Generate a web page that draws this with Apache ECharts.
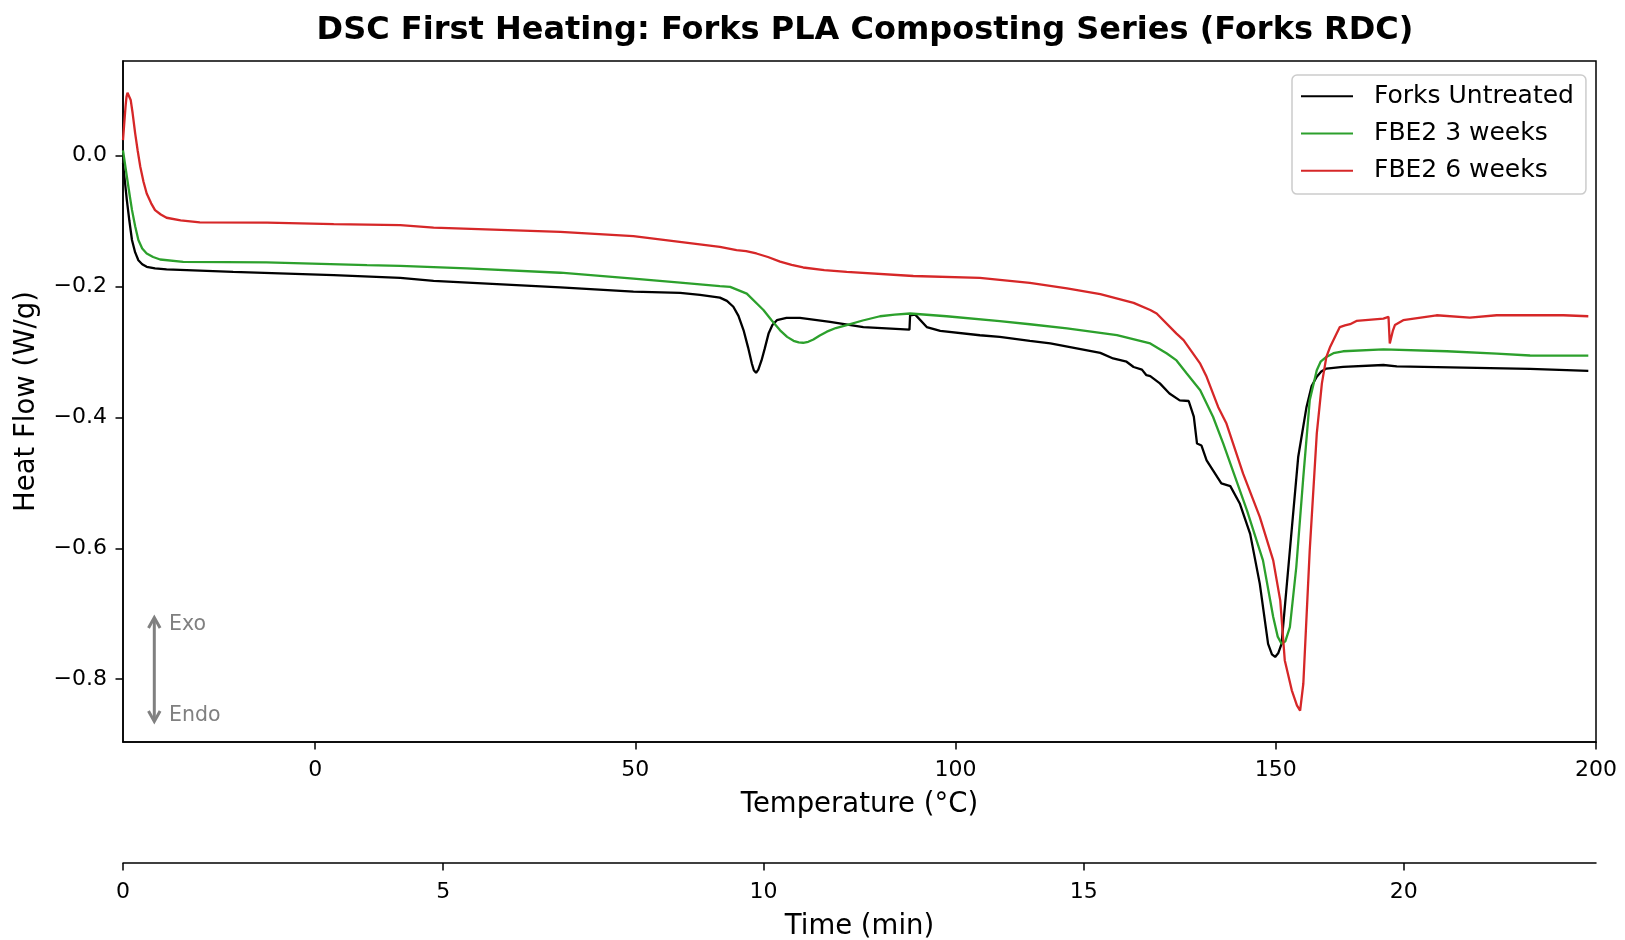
<!DOCTYPE html>
<html>
<head>
<meta charset="utf-8">
<script src="https://cdn.jsdelivr.net/npm/echarts@6/dist/echarts.min.js"></script>
<style>
html,body{margin:0;padding:0;background:#fff;}
#chart{width:1625px;height:940px;}
</style>
</head>
<body>
<div id="chart"></div>
<script>
// ---------- DATA ----------
const seriesNames = ['Forks Untreated', 'FBE2 3 weeks', 'FBE2 6 weeks'];

const untreatedT = [-30.0,-29.7,-29.4,-29.0,-28.6,-28.1,-27.6,-27.0,-26.3,-25.0,-23.2,-12.8,2.9,13.3,18.5,38.3,49.7,57.0,60.1,63.2,64.3,65.3,66.1,66.9,67.6,68.2,68.5,68.85,69.2,69.7,70.2,70.8,71.4,72.1,73.6,75.7,80.4,85.6,92.8,92.9,93.7,95.5,97.6,103.8,106.9,111.6,114.8,122.6,124.6,126.7,127.8,129.1,129.8,130.4,131.9,133.4,135.0,136.4,137.2,137.7,138.4,139.2,140.2,141.5,142.9,144.4,146.0,147.5,148.8,149.4,149.9,150.4,150.9,152.2,153.5,154.8,155.6,156.4,157.1,157.9,160.5,166.8,168.9,179.3,189.7,198.8];
const untreatedV = [-0.012,-0.040,-0.068,-0.100,-0.129,-0.148,-0.160,-0.166,-0.170,-0.1725,-0.174,-0.1776,-0.1827,-0.187,-0.1914,-0.2015,-0.208,-0.2098,-0.213,-0.217,-0.222,-0.231,-0.245,-0.267,-0.293,-0.318,-0.328,-0.332,-0.327,-0.313,-0.295,-0.272,-0.259,-0.2515,-0.248,-0.248,-0.254,-0.262,-0.266,-0.244,-0.243,-0.262,-0.268,-0.2745,-0.277,-0.283,-0.287,-0.3015,-0.310,-0.315,-0.323,-0.327,-0.3356,-0.337,-0.348,-0.3636,-0.374,-0.375,-0.399,-0.440,-0.443,-0.4656,-0.481,-0.501,-0.505,-0.532,-0.578,-0.654,-0.746,-0.762,-0.766,-0.760,-0.746,-0.603,-0.4606,-0.384,-0.352,-0.338,-0.330,-0.3254,-0.323,-0.320,-0.322,-0.324,-0.326,-0.329];

const week3T = [-30.0,-29.7,-29.4,-29.0,-28.6,-28.1,-27.6,-27.0,-26.3,-25.3,-24.2,-20.6,-7.6,8.1,13.3,23.7,38.3,49.7,57.0,63.2,64.8,67.4,70.0,71.3,72.6,73.7,74.7,75.5,76.2,77.0,77.8,78.8,79.9,81.3,83.0,85.5,88.2,90.5,92.9,98.6,106.9,111.6,117.4,125.2,130.4,133.0,134.5,136.1,138.2,140.2,141.8,145.5,148.0,149.6,150.3,150.9,151.5,152.2,153.2,154.3,155.3,156.4,157.0,157.9,159.0,160.5,166.8,176.7,184.5,189.7,198.8];
const week3V = [0.008,-0.012,-0.032,-0.058,-0.083,-0.108,-0.129,-0.142,-0.1496,-0.155,-0.1588,-0.1623,-0.1633,-0.1674,-0.1685,-0.1725,-0.179,-0.188,-0.194,-0.1995,-0.2006,-0.211,-0.236,-0.252,-0.267,-0.277,-0.283,-0.2855,-0.286,-0.2845,-0.281,-0.275,-0.269,-0.2635,-0.259,-0.252,-0.2455,-0.243,-0.2413,-0.2455,-0.253,-0.2577,-0.264,-0.2745,-0.287,-0.3025,-0.313,-0.333,-0.3586,-0.399,-0.440,-0.542,-0.6185,-0.705,-0.735,-0.746,-0.742,-0.7205,-0.629,-0.491,-0.374,-0.328,-0.315,-0.3076,-0.302,-0.299,-0.296,-0.299,-0.3025,-0.3055,-0.3058];

const week6T = [-30.0,-29.8,-29.6,-29.45,-29.3,-29.05,-28.8,-28.5,-28.1,-27.7,-27.3,-26.8,-26.3,-25.6,-25.0,-24.1,-23.2,-21.0,-18.0,-7.5,2.9,13.3,18.5,38.3,49.7,63.2,65.8,67.3,68.9,70.7,72.6,74.4,76.2,79.5,83.0,93.4,103.8,106.9,111.6,117.4,122.6,127.8,130.4,131.4,134.5,135.6,138.2,139.2,141.0,142.3,144.9,147.5,149.6,150.7,151.4,152.5,153.3,153.8,154.3,155.3,156.4,157.2,157.9,158.5,159.5,160.0,160.8,161.6,162.6,166.8,167.6,167.8,168.3,168.6,169.9,175.1,180.3,184.5,194.9,198.8];
const week6V = [0.0237,0.050,0.075,0.090,0.096,0.094,0.085,0.065,0.034,0.007,-0.017,-0.040,-0.058,-0.073,-0.0833,-0.090,-0.095,-0.099,-0.102,-0.1025,-0.1047,-0.1063,-0.110,-0.1165,-0.123,-0.1394,-0.1445,-0.146,-0.1496,-0.155,-0.162,-0.167,-0.171,-0.175,-0.1776,-0.184,-0.187,-0.190,-0.1945,-0.203,-0.2118,-0.225,-0.236,-0.2413,-0.272,-0.282,-0.318,-0.338,-0.384,-0.4095,-0.486,-0.552,-0.6185,-0.680,-0.771,-0.817,-0.840,-0.848,-0.807,-0.603,-0.425,-0.348,-0.3076,-0.292,-0.272,-0.262,-0.2595,-0.2577,-0.2526,-0.249,-0.2465,-0.287,-0.267,-0.259,-0.2515,-0.244,-0.2475,-0.244,-0.244,-0.2455];

const tempTicks = [0, 50, 100, 150, 200];
const heatTicks = [-0.8, -0.6, -0.4, -0.2, 0.0];
const timeTicks = [0, 5, 10, 15, 20];
const tempRange = [-30, 200];
const heatRange = [-0.896, 0.1445];
const timeRange = [0, 23];

// ---------- CHART ----------
const FONT = 'DejaVu Sans';
const colors = ['#000000', '#2ca02c', '#d62728'];
const zip = (xs, ys) => xs.map((x, i) => [x, ys[i]]);
const seriesData = [zip(untreatedT, untreatedV), zip(week3T, week3V), zip(week6T, week6V)];
const fmtNum = v => (v < 0 ? '\u2212' : '') + Math.abs(v).toFixed(1);

const axisLineStyle = { color: '#000', width: 1.5 };

const chart = echarts.init(document.getElementById('chart'), null, { renderer: 'canvas' });
chart.setOption({
  animation: false,
  backgroundColor: '#fff',
  title: {
    text: 'DSC First Heating: Forks PLA Composting Series (Forks RDC)',
    left: 860, top: 10, textAlign: 'center',
    textStyle: { fontFamily: FONT, fontSize: 32, fontWeight: 'bold', color: '#000' }
  },
  grid: {
    left: 123, right: 29, top: 61, bottom: 198,
    containLabel: false, outerBoundsMode: 'none',
    show: true, borderColor: '#000', borderWidth: 1.5, backgroundColor: 'transparent'
  },
  legend: {
    orient: 'vertical', left: 1292, top: 75,
    padding: [7, 12, 9, 9],
    itemWidth: 52, itemHeight: 2, itemGap: 8.5,
    icon: 'rect',
    data: seriesNames,
    textStyle: { fontFamily: FONT, fontSize: 25, color: '#000', lineHeight: 28.7, padding: [0, 0, 0, 16] },
    borderColor: '#cccccc', borderWidth: 1.5, borderRadius: 5,
    backgroundColor: 'rgba(255,255,255,0.8)'
  },
  xAxis: [
    {
      type: 'value', min: tempRange[0], max: tempRange[1], position: 'bottom',
      name: 'Temperature (\u00B0C)', nameLocation: 'middle', nameGap: 49,
      nameTextStyle: { fontFamily: FONT, fontSize: 27.5, color: '#000' },
      axisLine: { show: true, onZero: false, lineStyle: axisLineStyle },
      axisTick: { show: true, length: 7.5, lineStyle: axisLineStyle, customValues: tempTicks },
      axisLabel: { fontFamily: FONT, fontSize: 22, color: '#000', margin: 17, customValues: tempTicks, formatter: v => String(v) },
      splitLine: { show: false }
    },
    {
      type: 'value', min: timeRange[0], max: timeRange[1], position: 'bottom', offset: 121,
      name: 'Time (min)', nameLocation: 'middle', nameGap: 50,
      nameTextStyle: { fontFamily: FONT, fontSize: 27.5, color: '#000' },
      axisLine: { show: true, onZero: false, lineStyle: axisLineStyle },
      axisTick: { show: true, length: 7.5, lineStyle: axisLineStyle, customValues: timeTicks },
      axisLabel: { fontFamily: FONT, fontSize: 22, color: '#000', margin: 18, customValues: timeTicks, formatter: v => String(v) },
      splitLine: { show: false }
    }
  ],
  yAxis: {
    type: 'value', min: heatRange[0], max: heatRange[1],
    name: 'Heat Flow (W/g)', nameLocation: 'middle', nameGap: 82,
    nameTextStyle: { fontFamily: FONT, fontSize: 27.5, color: '#000' },
    axisLine: { show: true, onZero: false, lineStyle: axisLineStyle },
    axisTick: { show: true, length: 7.5, lineStyle: axisLineStyle, customValues: heatTicks },
    axisLabel: { fontFamily: FONT, fontSize: 22, color: '#000', margin: 16, customValues: heatTicks, formatter: fmtNum },
    splitLine: { show: false }
  },
  series: seriesNames.map((name, i) => ({
    name, type: 'line', xAxisIndex: 0, yAxisIndex: 0,
    data: seriesData[i], showSymbol: false, symbol: 'none',
    color: colors[i],
    lineStyle: { color: colors[i], width: 2.3 },
    emphasis: { disabled: true }
  })),
  graphic: [
    { type: 'polyline', shape: { points: [[154.3, 619], [154.3, 719]] }, style: { stroke: '#808080', lineWidth: 3, fill: null } },
    { type: 'polyline', shape: { points: [[148.5, 628], [154.3, 617.5], [160.1, 628]] }, style: { stroke: '#808080', lineWidth: 3, fill: null } },
    { type: 'polyline', shape: { points: [[148.5, 711], [154.3, 721.5], [160.1, 711]] }, style: { stroke: '#808080', lineWidth: 3, fill: null } },
    { type: 'text', left: 169, top: 614, style: { text: 'Exo', fontFamily: FONT, fontSize: 20.5, fill: '#808080' } },
    { type: 'text', left: 169, top: 705, style: { text: 'Endo', fontFamily: FONT, fontSize: 20.5, fill: '#808080' } }
  ]
});
</script>
</body>
</html>
